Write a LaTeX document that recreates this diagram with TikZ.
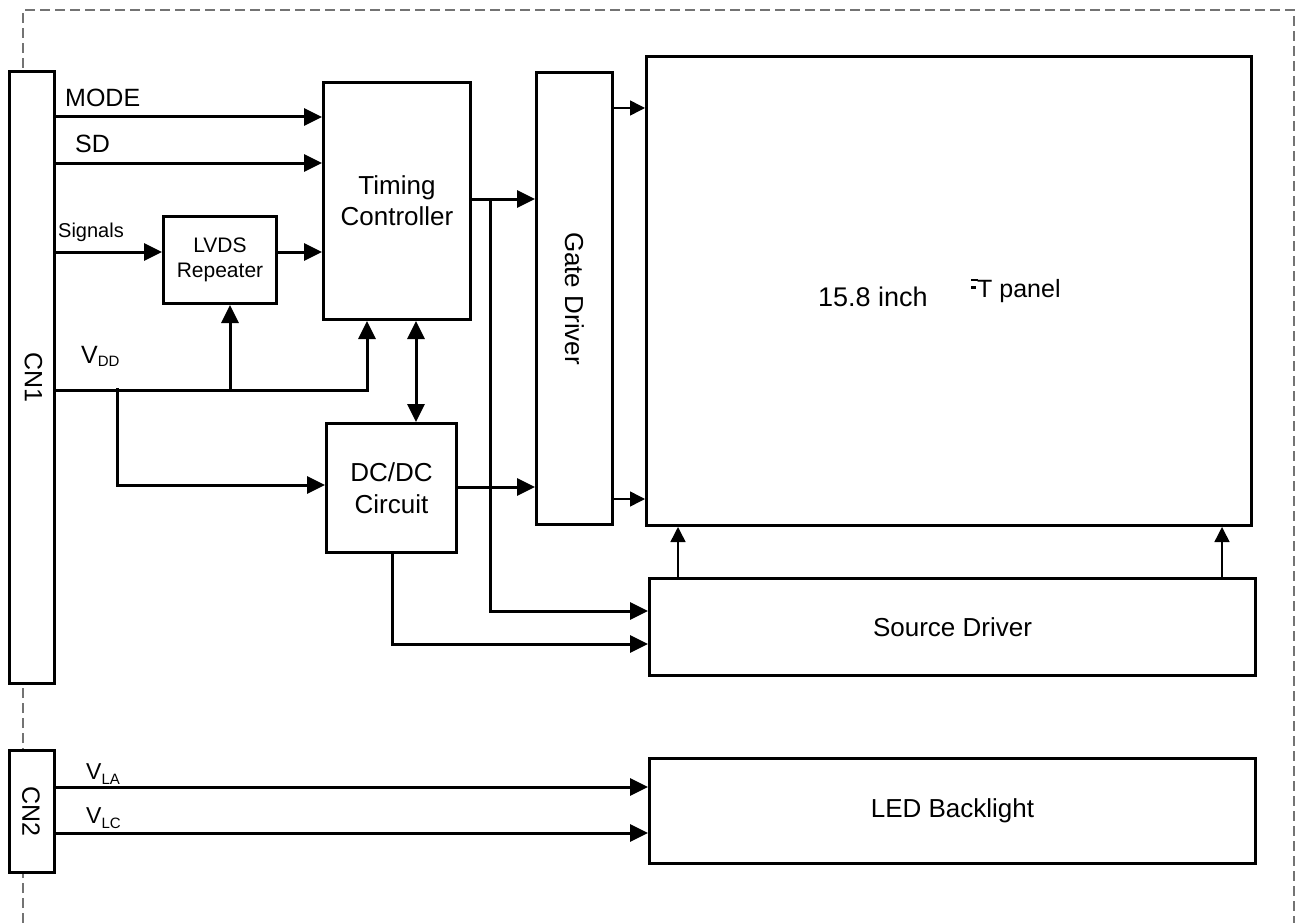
\documentclass[tikz,border=0pt]{standalone}
\usepackage{fontspec}
\setmainfont{Liberation Sans}
\usetikzlibrary{arrows.meta}
\tikzset{
  box/.style={draw, line width=3pt, fill=white, inner sep=0pt, align=center, anchor=north west},
  bigfont/.style={font=\fontsize{26}{31}\selectfont},
  conn/.style={line width=3pt, -{Triangle[length=18pt,width=17pt]}},
  bothconn/.style={line width=3pt, {Triangle[length=18pt,width=17pt]}-{Triangle[length=18pt,width=17pt]}},
  thinarr/.style={line width=1.5pt, -{Triangle[length=15pt,width=15pt]}},
  frameline/.style={draw=black!55, line width=1.5pt, dash pattern=on 10pt off 5pt},
  lbl/.style={anchor=base west, inner sep=0pt}
}
\begin{document}
\begin{tikzpicture}[x=1pt,y=-1pt]
\useasboundingbox (0,0) rectangle (1298,923);
% dashed outline
\draw[frameline] (23,923) -- (23,10) -- (1294,10) -- (1294,923);

% boxes
\node[box, minimum width=45pt, minimum height=612pt] (cn1) at (8,70) {};
\node[box, minimum width=45pt, minimum height=122pt] (cn2) at (8,749) {};
\node[rotate=-90, font=\fontsize{25}{25}\selectfont, inner sep=0pt] (cn1t) at ([xshift=1.5pt]cn1.center) {CN1};
\node[rotate=-90, font=\fontsize{25}{25}\selectfont, inner sep=0pt] (cn2t) at ([xshift=-1pt]cn2.center) {CN2};

\node[box, minimum width=113pt, minimum height=87pt, font=\fontsize{21}{25}\selectfont] (lvds) at (162,215) {LVDS\\Repeater};
\node[box, minimum width=147pt, minimum height=237pt, bigfont] (tc) at (322,81) {Timing\\Controller};
\node[box, minimum width=130pt, minimum height=129pt, font=\fontsize{26}{32}\selectfont] (dc) at (325,422) {DC/DC\\Circuit};
\node[box, minimum width=76pt, minimum height=452pt] (gd) at (535,71) {};
\node[rotate=-90, bigfont, inner sep=0pt] (gdt) at (gd.center) {Gate Driver};
\node[box, minimum width=605pt, minimum height=469pt] (panel) at (645,55) {};
\node[box, minimum width=606pt, minimum height=97pt, bigfont] (sd) at (648,577) {Source Driver};
\node[box, minimum width=606pt, minimum height=105pt, bigfont] (led) at (648,757) {LED Backlight};

% panel text
\node[lbl, font=\fontsize{27}{27}\selectfont] (pa) at (818,306) {15.8 inch};
\node[lbl, font=\fontsize{25}{25}\selectfont] (pb) at (977,297) {T panel};
\draw[line width=2.2pt] (971,280) -- (978,280);
\draw[line width=2.2pt] (971,287.5) -- (976,287.5);

% coordinates
\coordinate (yMode) at (0,117);
\coordinate (ySD) at (0,163);
\coordinate (ySig) at (0,252);
\coordinate (vA) at (367,390);
\coordinate (vB) at (230,390);
\coordinate (vC) at (117,388);
\coordinate (yDCin) at (0,485);
\coordinate (xBi) at (416,0);
\coordinate (yG) at (0,199);
\coordinate (j3) at (490,199);
\coordinate (ySD1) at (0,611);
\coordinate (yDC) at (0,487);
\coordinate (xDCb) at (392,0);
\coordinate (ySD2) at (0,644);
\coordinate (yP1) at (0,108);
\coordinate (yP2) at (0,499);
\coordinate (xP1) at (678,0);
\coordinate (xP2) at (1222,0);
\coordinate (yLA) at (0,787);
\coordinate (yLC) at (0,833);

% connectors
\draw[conn] (cn1.east |- yMode) -- (tc.west |- yMode);
\draw[conn] (cn1.east |- ySD) -- (tc.west |- ySD);
\draw[conn] (cn1.east |- ySig) -- (lvds.west |- ySig);
\draw[conn] (lvds.east |- ySig) -- (tc.west |- ySig);
\draw[conn] (cn1.east |- vA) -| (tc.south -| vA);
\draw[conn] (vB) -- (lvds.south -| vB);
\draw[conn] (vC) |- (dc.west |- yDCin);
\draw[bothconn] (tc.south -| xBi) -- (dc.north -| xBi);
\draw[conn] (tc.east |- yG) -- (gd.west |- yG);
\draw[conn] (j3) |- (sd.west |- ySD1);
\draw[conn] (dc.east |- yDC) -- (gd.west |- yDC);
\draw[conn] (dc.south -| xDCb) |- (sd.west |- ySD2);
\draw[thinarr] (gd.east |- yP1) -- (panel.west |- yP1);
\draw[thinarr] (gd.east |- yP2) -- (panel.west |- yP2);
\draw[thinarr] (sd.north -| xP1) -- (panel.south -| xP1);
\draw[thinarr] (sd.north -| xP2) -- (panel.south -| xP2);
\draw[conn] (cn2.east |- yLA) -- (led.west |- yLA);
\draw[conn] (cn2.east |- yLC) -- (led.west |- yLC);

% labels
\node[lbl, font=\fontsize{25}{25}\selectfont] (lMode) at (65,107) {MODE};
\node[lbl, font=\fontsize{25}{25}\selectfont] (lSD) at (75,153) {SD};
\node[lbl, font=\fontsize{20}{20}\selectfont] (lSig) at (58,237) {Signals};
\node[lbl, font=\fontsize{25}{25}\selectfont] (lVdd) at (81,363) {V\raisebox{-3pt}{\fontsize{15}{15}\selectfont DD}};
\node[lbl, font=\fontsize{23}{23}\selectfont] (lVla) at (86,779) {V\raisebox{-5pt}{\fontsize{15}{15}\selectfont LA}};
\node[lbl, font=\fontsize{23}{23}\selectfont] (lVlc) at (86,823) {V\raisebox{-5pt}{\fontsize{15}{15}\selectfont LC}};
\end{tikzpicture}
\end{document}
